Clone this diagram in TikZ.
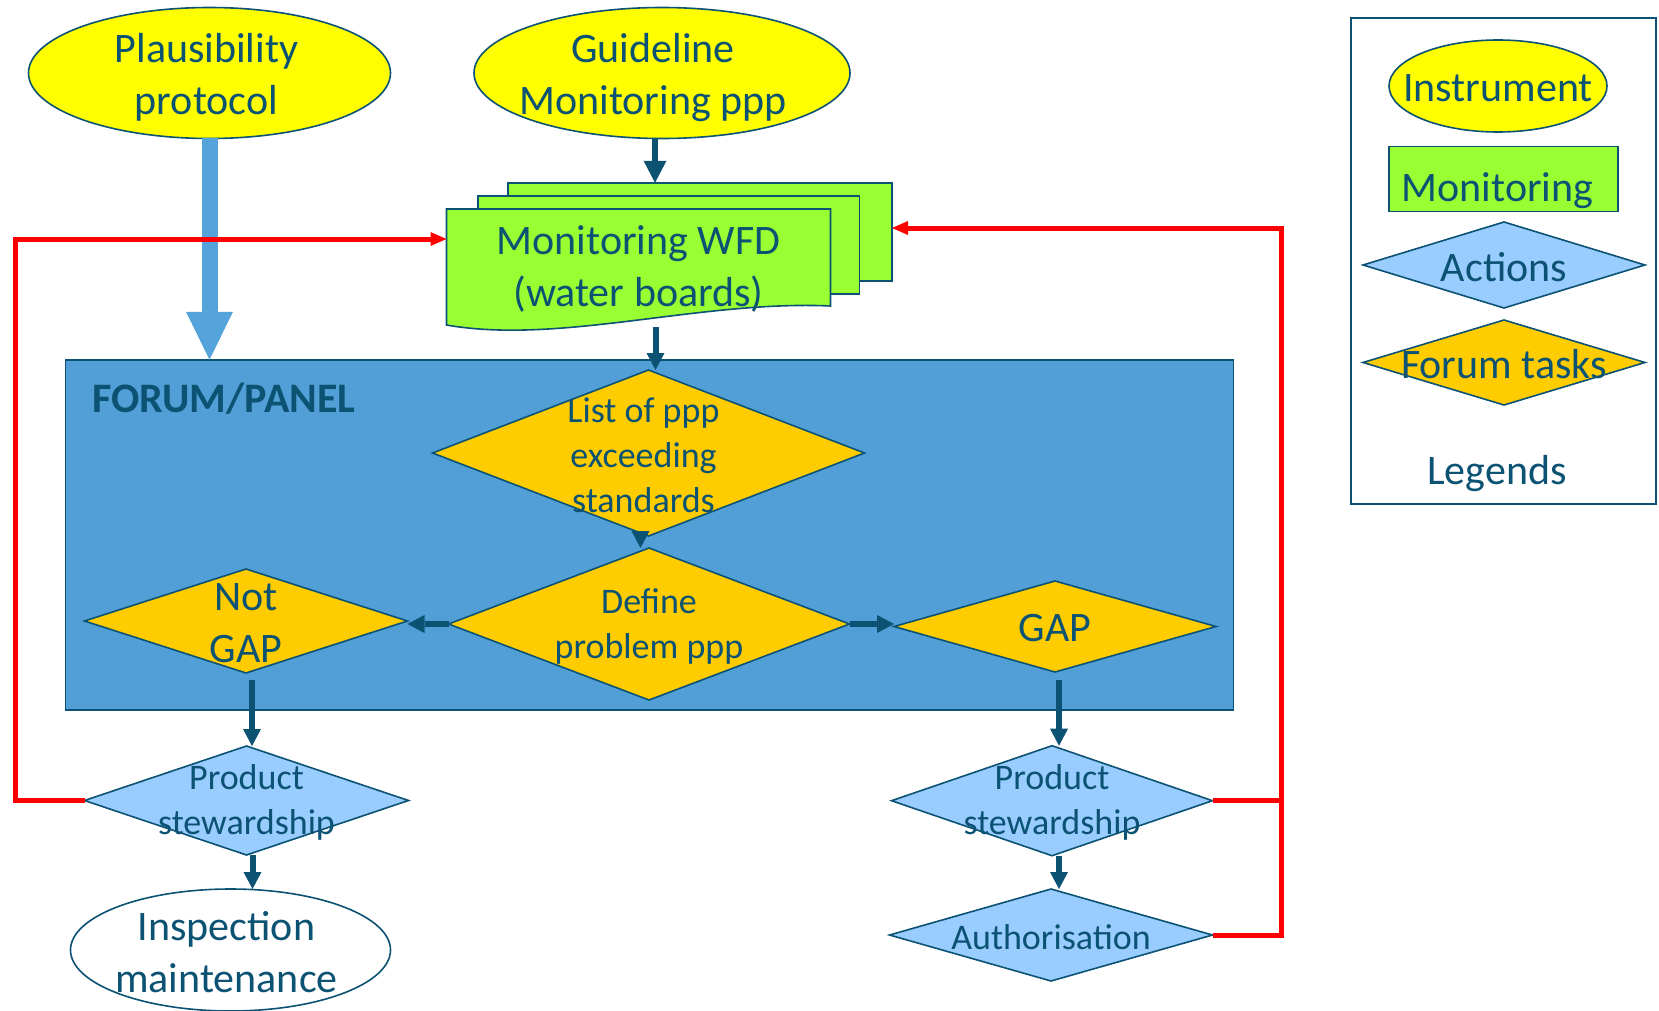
\documentclass[tikz,border=0pt]{standalone}
\usepackage{fontspec}
\setmainfont{Carlito}
\usetikzlibrary{shapes.geometric,arrows.meta,positioning}

\definecolor{ink}{HTML}{0B5273}
\definecolor{cInstr}{HTML}{FFFF00}
\definecolor{cMonit}{HTML}{99FF33}
\definecolor{cAction}{HTML}{99CCFF}
\definecolor{cTask}{HTML}{FFCC00}
\definecolor{cPanel}{HTML}{519FD6}
\definecolor{cFat}{HTML}{55A3DB}

\tikzset{
	txt/.style={text=ink,align=center,font=\fontsize{21}{26}\selectfont,yshift=-1pt},
	smalltxt/.style={text=ink,align=center,font=\fontsize{18}{22.5}\selectfont,yshift=-1pt},
	base/.style={draw=ink,line width=0.8pt,inner sep=0pt,outer sep=0pt},
	instrument/.style={base,ellipse,fill=cInstr},
	monitoring/.style={base,rectangle,fill=cMonit},
	action/.style={base,diamond,fill=cAction},
	forumtask/.style={base,diamond,fill=cTask},
	darrow/.style={draw=ink,line width=3pt,-{Triangle[width=9pt,length=8.5pt,line width=0pt]}},
	fatarrow/.style={draw=cFat,line width=8pt,-{Triangle[width=23.5pt,length=24pt,line width=0pt]}},
	redline/.style={draw=red,line width=2.5pt,-{Triangle[width=7pt,length=8pt,line width=0pt]}}
}

\begin{document}
\begin{tikzpicture}[x=0.5pt,y=-0.5pt]
				\useasboundingbox (0,0) rectangle (1659,1011);
				
				\node[instrument,minimum width=181pt,minimum height=65.5pt,label={[txt,xshift=-1.5pt,yshift=-1pt]center:Plausibility\\protocol}] (plaus) at (209.5,73) {};
				\node[instrument,minimum width=188pt,minimum height=65.5pt,label={[txt,xshift=-4.5pt,yshift=-1.5pt]center:Guideline\\Monitoring ppp}] (guide) at (662,73) {};
				
				\node[monitoring,minimum width=192pt,minimum height=49.25pt] (wfd3) at (700,232) {};
				\node[monitoring,minimum width=190.75pt,minimum height=49pt] (wfd2) at (668.75,245) {};
				\path[base,fill=cMonit] (446.5,209) -- (830.5,209) -- (830.5,306) .. controls (700,300) and (560,345) .. (446.5,325) -- cycle;
				\node[txt,inner sep=0pt,outer sep=0pt,minimum width=192pt,minimum height=58pt] (wfd) at (638.5,267) {Monitoring WFD\\(water boards)};
				
				\node[base,rectangle,fill=cPanel,minimum width=584pt,minimum height=175.15pt] (forum) at (649.6,534.9) {};
				\node[txt,font=\fontsize{21}{25}\selectfont\bfseries,anchor=west,inner sep=0pt] (forumlbl) at (92,397) {FORUM/PANEL};
				
				\node[forumtask,minimum width=216pt,minimum height=83pt,label={[smalltxt,xshift=-2.5pt]center:List of ppp\\exceeding\\standards}] (list) at (648.5,453) {};
				\node[forumtask,minimum width=200.5pt,minimum height=76pt,label={[smalltxt]center:Define\\problem ppp}] (define) at (649,624) {};
				\node[forumtask,minimum width=161.5pt,minimum height=52pt,label={[txt]center:Not\\GAP}] (notgap) at (246,621) {};
				\node[forumtask,minimum width=161pt,minimum height=45.5pt,label={[txt]center:GAP}] (gap) at (1055,626.5) {};
				
				\node[action,minimum width=162pt,minimum height=54.5pt,label={[smalltxt]center:Product\\stewardship}] (prodL) at (246.5,800.5) {};
				\node[base,ellipse,fill=white,minimum width=160pt,minimum height=61pt,label={[txt,xshift=-2pt]center:Inspection\\maintenance}] (inspect) at (230.5,950) {};
				\node[action,minimum width=160.5pt,minimum height=55pt,label={[smalltxt]center:Product\\stewardship}] (prodR) at (1052,800.7) {};
				\node[action,minimum width=161.5pt,minimum height=46pt,label={[smalltxt]center:Authorisation}] (auth) at (1051,935) {};
				
				\node[base,rectangle,line width=1pt,minimum width=152.5pt,minimum height=242.8pt] (legend) at (1503.5,260.8) {};
				\node[instrument,minimum width=109pt,minimum height=46pt,label={[txt]center:Instrument}] (lgInstr) at (1498,86) {};
				\node[monitoring,minimum width=114.5pt,minimum height=32.5pt,label={[txt,xshift=-3pt,yshift=-5pt]center:Monitoring}] (lgMon) at (1503.5,179) {};
				\node[action,minimum width=141pt,minimum height=43pt,label={[txt]center:Actions}] (lgAct) at (1504,265) {};
				\node[forumtask,minimum width=141pt,minimum height=42.5pt,label={[txt]center:Forum tasks}] (lgTask) at (1504,362.5) {};
				\node[txt] (lgText) at (1497,472) {Legends};
				
				\coordinate (loopL) at (15,239);
				\coordinate (loopR) at (1281,228);
				
				\draw[fatarrow] (plaus.south) -- (plaus.south |- forum.north);
				\draw[darrow,-{Triangle[width=11.5pt,length=11pt,line width=0pt]}] ([xshift=-3.5pt]guide.south) -- ([xshift=-3.5pt]guide.south |- wfd3.north);
				\draw[darrow] ([xshift=3.5pt]list.north |- wfd.south) -- ([xshift=3.5pt]list.north);
				\draw[darrow] ([xshift=-4pt]list.south) -- ([xshift=-4pt]list.south |- define.north);
				\draw[darrow] (define.west) -- (define.west -| notgap.east);
				\draw[darrow] (define.east) -- (define.east -| gap.west);
				\draw[darrow,shorten <=3.5pt] ([xshift=3pt]notgap.south) -- ([xshift=3pt]notgap.south |- prodL.north);
				\draw[darrow] ([xshift=3pt]prodL.south) -- ([xshift=3pt]prodL.south |- inspect.north);
				\draw[darrow,shorten <=4pt] ([xshift=2pt]gap.south) -- ([xshift=2pt]gap.south |- prodR.north);
				\draw[darrow] ([xshift=3.5pt]prodR.south) -- ([xshift=3.5pt]prodR.south |- auth.north);
				
				\draw[redline] (prodL.west) -| (loopL) -- (loopL -| wfd.west);
				\draw[redline] (auth.east) -| (loopR) -- (loopR -| wfd3.east);
				\draw[redline,-] (prodR.east) -- (prodR.east -| loopR);
				
\end{tikzpicture}
\end{document}
